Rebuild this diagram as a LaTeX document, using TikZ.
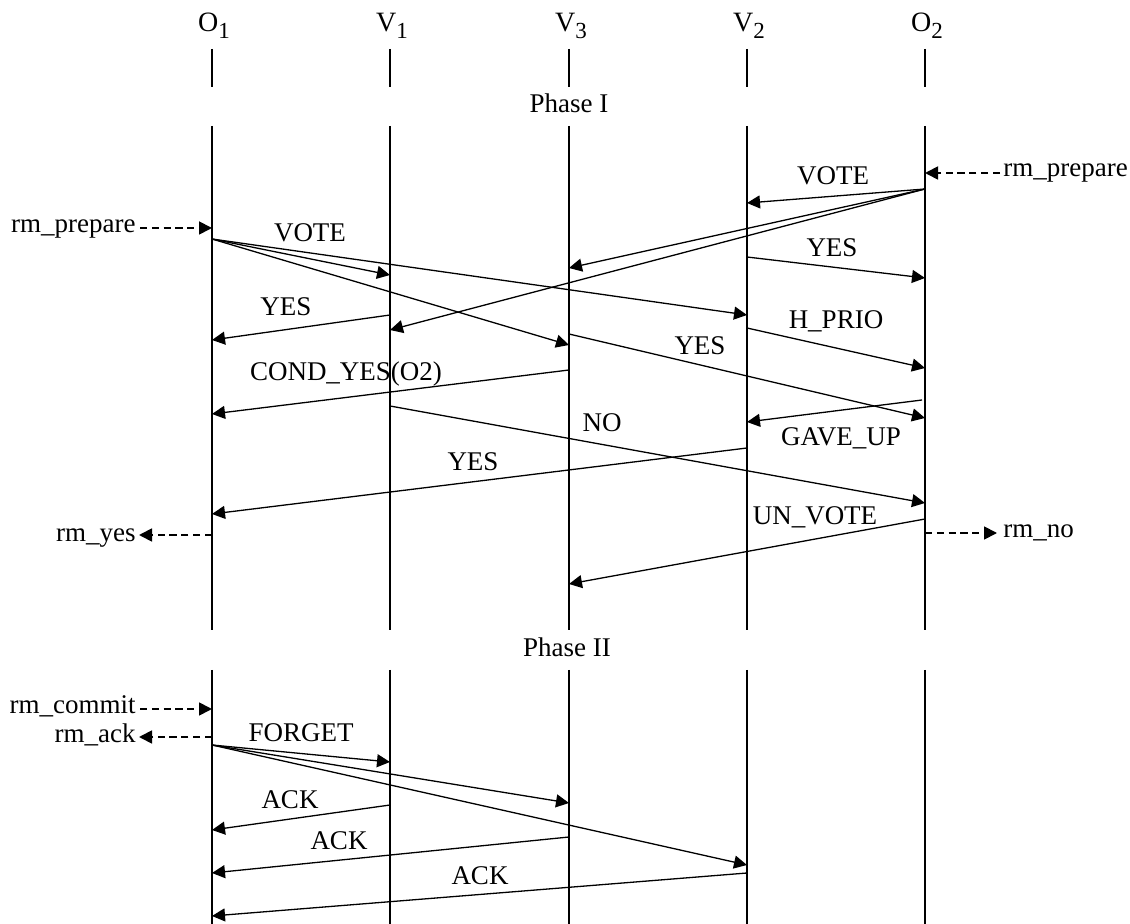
\documentclass[tikz,border=0pt]{standalone}
\usepackage{fontspec}
\setmainfont{Liberation Serif}
\usetikzlibrary{arrows.meta}
\newcommand\lsub[1]{\raisebox{-3.5pt}{\fontsize{11.5}{12}\selectfont #1}}
\begin{document}
\begin{tikzpicture}[x=0.5pt,y=-0.5pt,
  life/.style={line width=1pt},
  msg/.style={line width=0.65pt,-{Triangle[length=6.5pt,width=6.5pt]}},
  ext/.style={line width=0.9pt,dash pattern=on 3.6pt off 2.3pt,-{Triangle[length=6.5pt,width=6.5pt]}},
  lbl/.style={font=\fontsize{13.5}{16}\selectfont,anchor=base,inner sep=0pt},
  head/.style={lbl,font=\fontsize{14}{16}\selectfont}]
\useasboundingbox (0,0) rectangle (1130,924);

% participants and their lifelines (three segments each)
\foreach \n/\x in {o1/212, v1/390, v3/569, v2/747, o2/925}{
  \coordinate (\n-a) at (\x,49);  \coordinate (\n-b) at (\x,87);
  \coordinate (\n-c) at (\x,126); \coordinate (\n-d) at (\x,630);
  \coordinate (\n-e) at (\x,670); \coordinate (\n-f) at (\x,924);
  \draw[life] (\n-a) -- (\n-b);
  \draw[life] (\n-c) -- (\n-d);
  \draw[life] (\n-e) -- (\n-f);
}
\node[head] (hO1) at (214,32) {O\lsub{1}};
\node[head] (hV1) at (392,32) {V\lsub{1}};
\node[head] (hV3) at (571,32) {V\lsub{3}};
\node[head] (hV2) at (749,32) {V\lsub{2}};
\node[head] (hO2) at (927,32) {O\lsub{2}};

\node[lbl] (ph1) at (569,113) {Phase I};
\node[lbl] (ph2) at (567,657) {Phase II};

% message end points on the lifelines
\coordinate (o2-1) at (925,189);
\coordinate (v2-1) at (747,203);
\coordinate (v3-1) at (569,268);
\coordinate (v1-1) at (390,330);
\coordinate (v2-2) at (747,257);
\coordinate (o2-2) at (925,278);
\coordinate (o1-1) at (212,239);
\coordinate (v1-2) at (390,275);
\coordinate (v2-3) at (747,315);
\coordinate (v3-2) at (569,345);
\coordinate (v1-3) at (390,315);
\coordinate (o1-2) at (212,340);
\coordinate (v2-4) at (747,328);
\coordinate (o2-3) at (925,368);
\coordinate (v3-3) at (569,334);
\coordinate (o2-4) at (925,418);
\coordinate (v3-4) at (569,370);
\coordinate (o1-3) at (212,414);
\coordinate (o2-5) at (922,400);
\coordinate (v2-5) at (747,422);
\coordinate (v1-4) at (390,406);
\coordinate (o2-6) at (925,503);
\coordinate (v2-6) at (747,448);
\coordinate (o1-4) at (212,514);
\coordinate (o2-7) at (925,519);
\coordinate (v3-5) at (569,584);

\coordinate (o1-5) at (212,745);
\coordinate (v1-5) at (390,762);
\coordinate (v3-6) at (569,803);
\coordinate (v2-7) at (747,865);
\coordinate (v1-6) at (390,805);
\coordinate (o1-6) at (212,830);
\coordinate (v3-7) at (569,837);
\coordinate (o1-7) at (212,873);
\coordinate (v2-8) at (747,873);
\coordinate (o1-8) at (212,916);

% external requests and replies
\node[lbl,anchor=base east] (prepL) at (136,233) {rm\_prepare};
\node[lbl,anchor=base west] (prepR) at (1003,177) {rm\_prepare};
\node[lbl,anchor=base east] (yesL) at (136,542) {rm\_yes};
\node[lbl,anchor=base west] (noR) at (1003,538) {rm\_no};
\node[lbl,anchor=base east] (commitL) at (136,713) {rm\_commit};
\node[lbl,anchor=base east] (ackL) at (136,742) {rm\_ack};
\coordinate (pL) at (140,228);  \coordinate (o1-p) at (212,228);
\coordinate (pR) at (1000,173); \coordinate (o2-p) at (925,173);
\coordinate (yL) at (139,535);  \coordinate (o1-y) at (212,535);
\coordinate (nR) at (997,533);  \coordinate (o2-n) at (925,533);
\coordinate (cL) at (140,709);  \coordinate (o1-c) at (212,709);
\coordinate (aL) at (139,737);  \coordinate (o1-k) at (212,737);
\draw[ext] (pL) -- (o1-p);
\draw[ext] (pR) -- (o2-p);
\draw[ext] (o1-y) -- (yL);
\draw[ext] (o2-n) -- (nR);
\draw[ext] (cL) -- (o1-c);
\draw[ext] (o1-k) -- (aL);

% phase I messages
\draw[msg] (o2-1) -- (v2-1);
\draw[msg] (o2-1) -- (v3-1);
\draw[msg] (o2-1) -- (v1-1);
\draw[msg] (v2-2) -- (o2-2);
\draw[msg] (o1-1) -- (v1-2);
\draw[msg] (o1-1) -- (v2-3);
\draw[msg] (o1-1) -- (v3-2);
\draw[msg] (v1-3) -- (o1-2);
\draw[msg] (v2-4) -- (o2-3);
\draw[msg] (v3-3) -- (o2-4);
\draw[msg] (v3-4) -- (o1-3);
\draw[msg] (o2-5) -- (v2-5);
\draw[msg] (v1-4) -- (o2-6);
\draw[msg] (v2-6) -- (o1-4);
\draw[msg] (o2-7) -- (v3-5);

\node[lbl] (l1) at (833,185) {VOTE};
\node[lbl] (l2) at (832,257) {YES};
\node[lbl] (l3) at (836,329) {H\_PRIO};
\node[lbl] (l4) at (700,355) {YES};
\node[lbl] (l5) at (841,446) {GAVE\_UP};
\node[lbl] (l6) at (602,432) {NO};
\node[lbl] (l7) at (815,525) {UN\_VOTE};
\node[lbl] (l8) at (310,242) {VOTE};
\node[lbl] (l9) at (286,316) {YES};
\node[lbl] (l10) at (346,381) {COND\_YES(O2)};
\node[lbl] (l11) at (473,471) {YES};

% phase II messages
\draw[msg] (o1-5) -- (v1-5);
\draw[msg] (o1-5) -- (v3-6);
\draw[msg] (o1-5) -- (v2-7);
\draw[msg] (v1-6) -- (o1-6);
\draw[msg] (v3-7) -- (o1-7);
\draw[msg] (v2-8) -- (o1-8);

\node[lbl] (l12) at (301,741) {FORGET};
\node[lbl] (l13) at (290,808) {ACK};
\node[lbl] (l14) at (339,849) {ACK};
\node[lbl] (l15) at (480,884) {ACK};
\end{tikzpicture}
\end{document}
